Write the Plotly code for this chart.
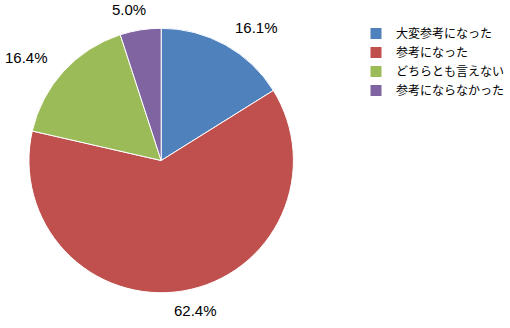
import math
import plotly.graph_objects as go

labels = ["大変参考になった", "参考になった", "どちらとも言えない", "参考にならなかった"]
values = [16.1, 62.4, 16.4, 5.0]
colors = ["#4F81BD", "#C0504D", "#9BBB59", "#8064A2"]

W, H = 510, 328
cx, cy, R = 161.5, 160.5, 132.5

fig = go.Figure(go.Pie(
    labels=labels,
    values=values,
    sort=False,
    direction="clockwise",
    rotation=0,
    marker=dict(colors=colors, line=dict(color="white", width=1)),
    textinfo="none",
    domain=dict(x=[(cx - R) / W, (cx + R) / W], y=[1 - (cy + R) / H, 1 - (cy - R) / H]),
    hoverinfo="skip",
))

# data labels placed outside each slice, derived from slice mid-angles
total = sum(values)
cum = 0.0
annotations = []
for v in values:
    mid = (cum + v / 2) / total * 2 * math.pi
    cum += v
    s, c = math.sin(mid), math.cos(mid)
    px = cx + (R + 20) * s + 22 * math.copysign(min(1.0, abs(s) * 2.5), s)
    py = cy - (R + 20) * c
    annotations.append(dict(
        x=px / W, y=1 - py / H, xref="paper", yref="paper",
        text=f"{v:.1f}%", showarrow=False, xanchor="center", yanchor="middle",
        font=dict(family="Liberation Sans, Arial", size=15, color="#000000"),
    ))

fig.update_layout(
    width=W, height=H,
    margin=dict(l=0, r=0, t=0, b=0),
    paper_bgcolor="white",
    showlegend=True,
    annotations=annotations,
    legend=dict(x=357 / W, y=1 - 19 / H, xanchor="left", yanchor="top",
                font=dict(family="Noto Sans CJK JP", size=12, color="#000000"),
                itemwidth=30, tracegroupgap=0),
)
fig.write_html("out.html")
